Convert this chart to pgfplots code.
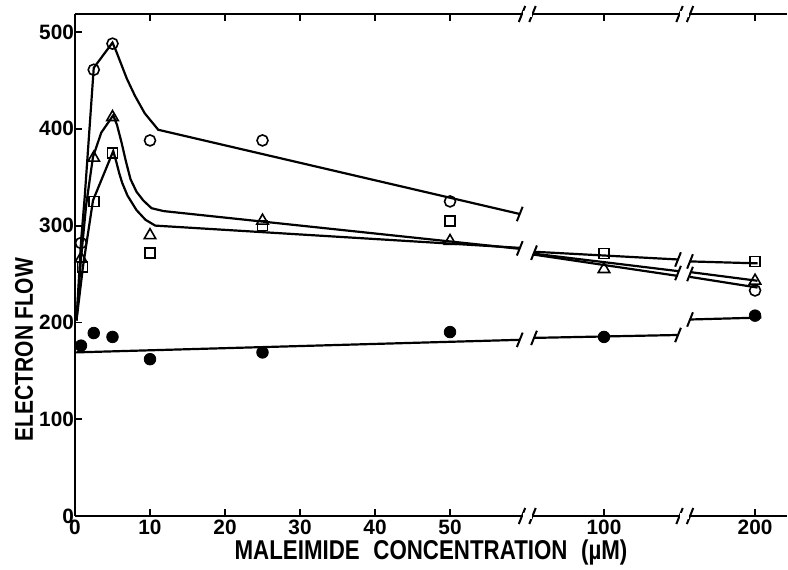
\documentclass[border=0pt]{standalone}
\usepackage{fontspec}
\setmainfont{Liberation Sans}
\newfontfamily\labfont{Liberation Sans}[FakeStretch=0.82]
\usepackage{pgfplots}
\pgfplotsset{compat=1.18}

% slanted stroke used for the broken-axis marks
\pgfdeclareplotmark{brk}{%
  \pgfpathmoveto{\pgfqpoint{-0.4\pgfplotmarksize}{-\pgfplotmarksize}}%
  \pgfpathlineto{\pgfqpoint{0.4\pgfplotmarksize}{\pgfplotmarksize}}%
  \pgfusepathqstroke}

\begin{document}
\begin{tikzpicture}
\begin{axis}[
  set layers,
  scale only axis, width=356pt, height=251pt,
  xmin=0, xmax=94.93, ymin=0, ymax=518.6,
  clip=false,
  axis x line*=box, axis y line*=left,
  axis line style={line width=1pt, -},
  tick align=inside, major tick length=3.5pt,
  tick style={line width=0.9pt, black},
  xtick={0,10,20,30,40,50,70.53,90.67},
  xticklabels={0,10,20,30,40,50,100,200},
  ytick={0,100,200,300,400,500},
  ticklabel style={font=\fontsize{10.4}{11}\selectfont\bfseries},
  xticklabel style={yshift=1.5pt},
  yticklabel style={xshift=3pt},
  /pgf/number format/assume math mode=true,
  xlabel={MALEIMIDE\hspace{0.5em}CONCENTRATION\hspace{0.5em}(µM)},
  ylabel={ELECTRON FLOW},
  every axis x label/.style={at={(axis cs:47.47,-37.5)}, anchor=center,
    font=\fontsize{13.6}{16}\labfont\bfseries},
  every axis y label/.style={at={(axis cs:-6.8,172)}, rotate=90, anchor=center,
    font=\fontsize{12.8}{15}\labfont\bfseries},
  line/.style={black, line width=1.1pt, no marks},
  brkmk/.style={black, only marks, mark=brk, mark size=3.6pt, mark options={line width=1pt}},
]
% ---- fitted curves (open circles)
\addplot[line] coordinates {(0.2,202) (0.8,283) (1.3,330) (2.5,463) (5,489) (5.5,480) (6,470) (6.9,452) (8,434) (9.3,416) (11.1,399) (59.3,312)};
\addplot[line] coordinates {(61.2,270) (80.4,248)};
\addplot[line] coordinates {(82,247) (91,236)};
% ---- triangles
\addplot[line] coordinates {(0.2,202) (0.8,266) (1.5,322) (2.4,371) (3.5,396) (5.1,414) (5.6,404) (6.2,386) (6.8,366) (7.4,348) (8.2,335) (9.1,326) (10.2,318) (11.8,315) (59.3,276)};
\addplot[line] coordinates {(61.2,271) (80.4,253)};
\addplot[line] coordinates {(82,252) (91,243)};
% ---- squares
\addplot[line] coordinates {(0.2,202) (1.07,258) (2.4,326) (5.1,377) (5.5,366) (5.9,354) (6.3,344) (7,331) (8.2,316) (9.4,306) (10.7,300) (59.3,277)};
\addplot[line] coordinates {(61.2,273) (80.4,265)};
\addplot[line] coordinates {(82,263) (91,261)};
% ---- filled circles
\addplot[line] coordinates {(0,169) (59.3,182)};
\addplot[line] coordinates {(61.2,184) (80.4,187)};
\addplot[line] coordinates {(82,203) (91.5,205)};

% break strokes on the curves
\addplot[brkmk] coordinates {(59.3,312) (59.3,276.5) (61.2,272) (80.4,265) (82,263) (80.4,251) (82,250)
  (59.3,182) (61.2,184) (80.4,187) (82,203)};

% ---- data points
\addplot[only marks, mark=o, mark size=2.75pt, mark options={line width=0.8pt, fill=white}]
  coordinates {(0.8,282) (2.5,461) (5,488) (10,388) (25,388) (50,325) (90.67,233)};
\addplot[only marks, mark=triangle, mark size=3.3pt, mark options={line width=0.8pt, fill=white}]
  coordinates {(0.8,266) (2.5,370) (5,412) (10,290) (25,305) (50,284) (70.53,255) (90.67,243)};
\addplot[only marks, mark=square, mark size=2.5pt, mark options={line width=0.8pt, fill=white}]
  coordinates {(1,257) (2.5,325) (5,375) (10,272) (25,300) (50,305) (70.53,271) (90.67,263)};
\addplot[only marks, mark=*, mark size=2.9pt, mark options={fill=black}]
  coordinates {(0.8,176) (2.5,189) (5,185) (10,162) (25,169) (50,190) (70.53,185) (90.67,207)};

% ---- axis breaks
\addplot[on layer=axis foreground, white, line width=3pt, no marks] coordinates {(59.7,0) (60.9,0)};
\addplot[on layer=axis foreground, white, line width=3pt, no marks] coordinates {(80.7,0) (81.9,0)};
\addplot[on layer=axis foreground, white, line width=3pt, no marks] coordinates {(59.7,518.6) (60.9,518.6)};
\addplot[on layer=axis foreground, white, line width=3pt, no marks] coordinates {(80.7,518.6) (81.9,518.6)};
\addplot[on layer=axis foreground, brkmk, mark size=4pt] coordinates {(59.6,0) (61,0) (80.6,0) (82,0) (59.6,518.6) (61,518.6) (80.6,518.6) (82,518.6)};
\end{axis}
\pgfresetboundingbox
\useasboundingbox ([xshift=-37.5pt,yshift=-26.5pt]current axis.south west) rectangle ([xshift=0.5pt,yshift=7pt]current axis.north east);
\end{tikzpicture}
\end{document}
